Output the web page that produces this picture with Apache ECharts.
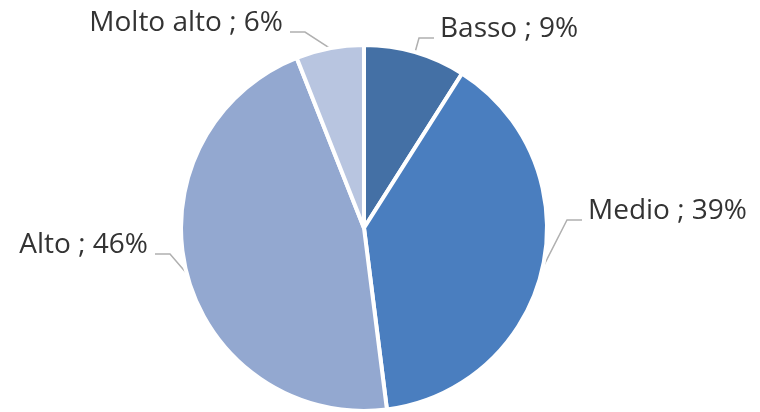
<!DOCTYPE html>
<html>
<head>
    <meta charset="utf-8">
    <title>Livello</title>
    <style>
        html, body { margin: 0; padding: 0; background: #fff; }
        #chart { width: 760px; height: 412px; }
    </style>
</head>
<body>
    <div id="chart"></div>
    <script src="https://cdn.jsdelivr.net/npm/echarts@6/dist/echarts.min.js"></script>
    <script>
        // dati
        var categories = ['Basso', 'Medio', 'Alto', 'Molto alto'];
        var values = [9, 39, 46, 6];
        var colors = ['#4470a5', '#4a7ebf', '#93a8d0', '#b8c5e0'];

        // posizione delle etichette (come nell'originale)
        var labelPos = [
            { x: 440, y: 29, align: 'left' },
            { x: 588, y: 211, align: 'left' },
            { x: 148, y: 245, align: 'right' },
            { x: 283, y: 23, align: 'right' }
        ];

        var chart = echarts.init(document.getElementById('chart'));

        var option = {
            animation: false,
            series: [{
                type: 'pie',
                center: [364, 228],
                radius: 183,
                startAngle: 90,
                clockwise: true,
                data: categories.map(function (c, i) {
                    return { name: c, value: values[i], itemStyle: { color: colors[i] } };
                }),
                itemStyle: { borderColor: '#fff', borderWidth: 4 },
                label: {
                    show: true,
                    position: 'outside',
                    formatter: '{b} ; {c}%',
                    fontFamily: 'Open Sans',
                    fontSize: 28,
                    color: '#333333'
                },
                labelLine: {
                    show: true,
                    length: 15,
                    length2: 15,
                    lineStyle: { color: '#b0b0b0', width: 1.5 }
                },
                labelLayout: function (params) {
                    var p = labelPos[params.dataIndex];
                    var pts = params.labelLinePoints;
                    var lineY = p.y + 9;
                    var endX = p.align === 'left' ? p.x - 6 : p.x + 7;
                    var elbowX = p.align === 'left' ? endX - 15 : endX + 15;
                    return {
                        x: p.x,
                        y: p.y,
                        align: p.align,
                        verticalAlign: 'middle',
                        labelLinePoints: [pts[0], [elbowX, lineY], [endX, lineY]]
                    };
                }
            }]
        };

        chart.setOption(option);
        window.addEventListener('resize', function () {
            chart.resize();
        });
    </script>
</body>
</html>
